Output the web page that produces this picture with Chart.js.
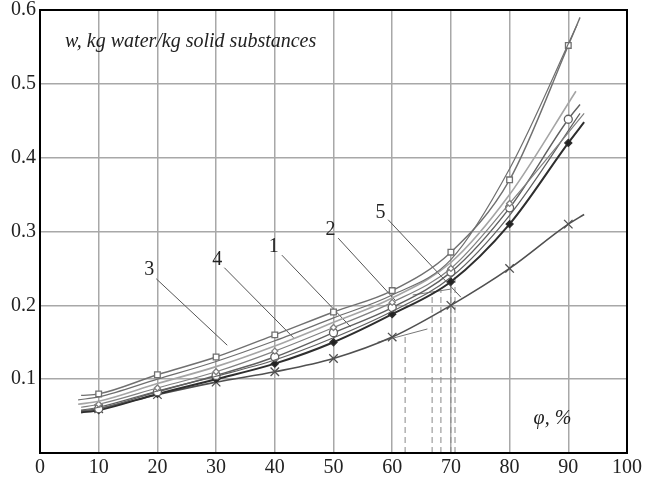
<!DOCTYPE html>
<html>
<head>
<meta charset="utf-8">
<script src="https://cdn.jsdelivr.net/npm/chart.js@4"></script>
<style>
  html, body { margin: 0; padding: 0; background: #fff; }
</style>
</head>
<body>
<canvas id="chart" width="645" height="478"></canvas>
<script>
// relative humidity (phi, %) and moisture content (w, kg/kg)
const phiA = [7, 10, 20, 30, 40, 50, 60, 70, 80, 90, 92];
const wA = [0.078, 0.080, 0.106, 0.130, 0.160, 0.191, 0.220, 0.272, 0.370, 0.552, 0.590];

const phiB = [6.5, 10, 20, 30, 40, 50, 60, 70, 80, 91.5];
const wB = [0.072, 0.076, 0.100, 0.124, 0.152, 0.183, 0.214, 0.262, 0.385, 0.580];

const phiC = [6.5, 10, 20, 30, 40, 50, 60, 70, 80, 91.3];
const wC = [0.066, 0.070, 0.094, 0.117, 0.145, 0.177, 0.210, 0.258, 0.350, 0.490];

const phiD = [7, 10, 20, 30, 40, 50, 60, 70, 80, 90, 92];
const wD = [0.057, 0.060, 0.083, 0.105, 0.130, 0.163, 0.197, 0.245, 0.332, 0.452, 0.472];

const phiE = [7, 10, 20, 30, 40, 50, 60, 70, 80, 92.7];
const wE = [0.062, 0.066, 0.088, 0.110, 0.138, 0.170, 0.204, 0.250, 0.338, 0.460];

const phiH = [7, 10, 20, 30, 40, 50, 60, 70, 80, 92];
const wH = [0.058, 0.062, 0.084, 0.104, 0.126, 0.156, 0.192, 0.238, 0.322, 0.460];

const phiF = [7, 10, 20, 30, 40, 50, 60, 70, 80, 90, 92.7];
const wF = [0.055, 0.058, 0.080, 0.100, 0.121, 0.150, 0.188, 0.232, 0.310, 0.420, 0.448];

const phiG = [7, 10, 20, 30, 40, 50, 60, 70, 80, 90, 92.7];
const wG = [0.056, 0.060, 0.079, 0.096, 0.110, 0.128, 0.157, 0.200, 0.250, 0.310, 0.323];

// dashed drop lines (phi, top w)
const dropPhi = [62.2, 66.8, 68.3, 70.0, 70.7];
const dropW = [0.158, 0.212, 0.220, 0.232, 0.245];

// short tangent strokes
const tangents = [
  [[57.5, 0.150], [66, 0.168]],
  [[63.5, 0.214], [70, 0.222]],
];

// curve labels: text, label position, leader line start and end
const curveLabels = ["3", "4", "1", "2", "5"];
const labelPos = [[18.6, 0.248], [30.2, 0.262], [39.8, 0.279], [49.5, 0.302], [58.0, 0.325]];
const leaderFrom = [[19.8, 0.236], [31.4, 0.251], [41.2, 0.268], [50.8, 0.291], [59.3, 0.316]];
const leaderTo = [[31.9, 0.146], [43.2, 0.156], [52.9, 0.171], [60.5, 0.207], [71.7, 0.211]];

const xTicks = [0, 10, 20, 30, 40, 50, 60, 70, 80, 90, 100];
const yTicks = [0, 0.1, 0.2, 0.3, 0.4, 0.5, 0.6];

function pts(xs, ys) {
  return xs.map((x, i) => ({ x: x, y: ys[i] }));
}

// show markers only on the measured points (every 10 %)
function markerRadius(xs, r) {
  return xs.map((x) => (x % 10 === 0 ? r : 0));
}

function curve(xs, ys, color, width, style, fill, r) {
  return {
    data: pts(xs, ys),
    borderColor: color,
    borderWidth: width,
    cubicInterpolationMode: "monotone",
    pointStyle: style,
    pointRadius: markerRadius(xs, r),
    pointBorderColor: color,
    pointBorderWidth: 1.3,
    pointBackgroundColor: fill,
    fill: false,
  };
}

const datasets = [
  curve(phiB, wB, "#6e6e6e", 1.2, "circle", "#fff", 0),
  curve(phiC, wC, "#a5a5a5", 1.6, "circle", "#fff", 0),
  curve(phiE, wE, "#808080", 1.2, "rectRot", "#fff", 3),
  curve(phiH, wH, "#606060", 1.2, "circle", "#fff", 0),
  curve(phiA, wA, "#707070", 1.4, "rect", "#fff", 4),
  curve(phiD, wD, "#606060", 1.4, "circle", "#fff", 4),
  curve(phiF, wF, "#2e2e2e", 2, "rectRot", "#222", 3.5),
  curve(phiG, wG, "#505050", 1.6, "crossRot", "#fff", 6),
];

dropPhi.forEach((x, i) => {
  datasets.push({
    data: [{ x: x, y: 0 }, { x: x, y: dropW[i] }],
    borderColor: "#888",
    borderWidth: 1,
    borderDash: [6, 4],
    pointRadius: 0,
  });
});

tangents.forEach((t) => {
  datasets.push({
    data: t.map((p) => ({ x: p[0], y: p[1] })),
    borderColor: "#777",
    borderWidth: 1,
    pointRadius: 0,
  });
});

leaderFrom.forEach((p, i) => {
  datasets.push({
    data: [{ x: p[0], y: p[1] }, { x: leaderTo[i][0], y: leaderTo[i][1] }],
    borderColor: "#555",
    borderWidth: 1,
    pointRadius: 0,
  });
});

const textPlugin = {
  id: "texts",
  afterDraw(chart) {
    const { ctx, chartArea, scales } = chart;
    ctx.save();
    // frame
    ctx.strokeStyle = "#000";
    ctx.lineWidth = 2;
    ctx.strokeRect(chartArea.left, chartArea.top, chartArea.right - chartArea.left, chartArea.bottom - chartArea.top);

    ctx.fillStyle = "#222";
    ctx.textBaseline = "middle";
    ctx.font = "italic 20px 'Liberation Serif'";
    ctx.textAlign = "left";
    ctx.fillText("w, kg water/kg solid substances", chartArea.left + 25, chartArea.top + 32);
    ctx.textAlign = "center";
    ctx.fillText("\u03c6, %", scales.x.getPixelForValue(87.3), scales.y.getPixelForValue(0.047));

    ctx.font = "20px 'Liberation Serif'";
    curveLabels.forEach((t, i) => {
      ctx.fillText(t, scales.x.getPixelForValue(labelPos[i][0]), scales.y.getPixelForValue(labelPos[i][1]));
    });
    ctx.restore();
  },
};

new Chart(document.getElementById("chart"), {
  type: "line",
  data: { datasets: datasets },
  options: {
    responsive: false,
    animation: false,
    devicePixelRatio: 1,
    layout: { padding: { top: 10, right: 11, left: 0, bottom: 0 } },
    plugins: { legend: { display: false }, tooltip: { enabled: false } },
    scales: {
      x: {
        type: "linear",
        min: 0,
        max: 100,
        afterBuildTicks: (s) => { s.ticks = xTicks.map((v) => ({ value: v })); },
        afterFit: (s) => { s.height = 25; },
        grid: { color: "#a8a8a8", lineWidth: 1.5, drawTicks: false },
        border: { color: "#000", width: 2 },
        ticks: {
          padding: 3,
          color: "#222",
          font: { family: "'Liberation Serif'", size: 20 },
          maxRotation: 0,
        },
      },
      y: {
        min: 0,
        max: 0.6,
        afterBuildTicks: (s) => { s.ticks = yTicks.map((v) => ({ value: v })); },
        afterFit: (s) => { s.width = 40; s.paddingTop = 0; s.paddingBottom = 0; },
        grid: { color: "#a8a8a8", lineWidth: 1.5, drawTicks: false },
        border: { color: "#000", width: 2 },
        ticks: {
          padding: 4,
          color: "#222",
          font: { family: "'Liberation Serif'", size: 20 },
          callback: (v) => (v === 0 ? "" : v.toFixed(1)),
        },
      },
    },
  },
  plugins: [textPlugin],
});
</script>
</body>
</html>
